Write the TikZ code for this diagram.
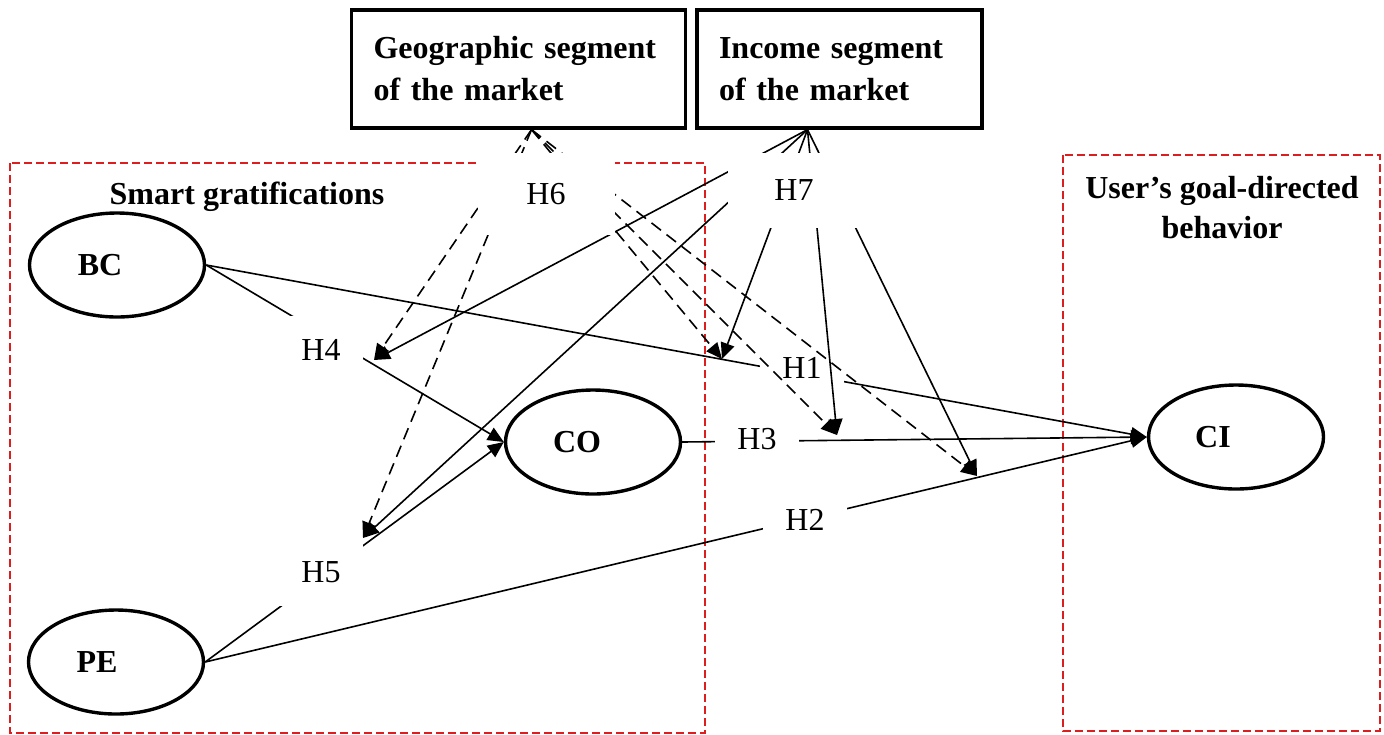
\documentclass[tikz,border=0pt]{standalone}
\usepackage{fontspec}
\setmainfont{Liberation Serif}
\definecolor{grpred}{RGB}{220,30,30}
\usetikzlibrary{arrows.meta,shapes.geometric}

\begin{document}
\begin{tikzpicture}[x=0.5pt,y=-0.5pt,
    construct/.style={draw,ellipse,line width=1.7pt,minimum width=87.5pt,
      minimum height=52pt,inner sep=0pt,font=\fontsize{16}{20}\selectfont\bfseries},
    segbox/.style={draw,line width=1.6pt,align=left,inner xsep=11pt,inner ysep=2pt,
      minimum height=59pt,font=\fontsize{16}{21}\selectfont\bfseries},
    hyp/.style={fill=white,inner sep=0pt,font=\fontsize{16}{20}\selectfont},
    grpbox/.style={draw=grpred,line width=0.6pt,dash pattern=on 4pt off 2pt},
    effect/.style={line width=0.8pt,-{Triangle[length=8pt,width=7pt]}},
    moderate/.style={effect,dash pattern=on 6pt off 3.5pt}]
  \useasboundingbox (0,0) rectangle (1384,734);

  %% Groups of constructs
  \draw[grpbox] (10,163) rectangle (705,733);
  \draw[grpbox] (1063,155) rectangle (1380,731);
  \node[font=\fontsize{16}{20}\selectfont\bfseries] (smart) at (247,197)
        {Smart gratifications};
  \node[font=\fontsize{16}{20}\selectfont\bfseries,align=center] (goal) at (1222,208)
        {User’s goal-directed\\behavior};

  %% Market segments
  \node[segbox,text width=145pt] (geo) at (518.5,69) {Geographic segment\\of the market};
  \node[segbox,text width=120.5pt] (inc) at (839.5,69) {Income segment\\of the market};

  %% Constructs
  \node[construct] (bc) at (117,265) {BC\hspace*{17pt}};
  \node[construct] (pe) at (116,662) {PE\hspace*{19pt}};
  \node[construct] (co) at (593,442) {CO\hspace*{16pt}};
  \node[construct] (ci) at (1236,437) {CI\hspace*{23pt}};

  %% Direct paths
  \draw[effect] (bc.east) -- (co.west);
  \draw[effect] (pe.east) -- (co.west);
  \draw[effect] (bc.east) -- (ci.west);
  \draw[effect] (pe.east) -- (ci.west);
  \draw[effect] (co.east) -- (ci.west);
  \node[hyp,minimum width=42pt,minimum height=34pt] (h1) at (802,368) {H1};
  \node[hyp,minimum width=42pt,minimum height=34pt] (h2) at (805,520) {H2};
  \node[hyp,minimum width=42pt,minimum height=34pt] (h3) at (757,439) {H3};
  \node[hyp,minimum width=42pt,minimum height=34pt] (h4) at (321,350) {H4};
  \node[hyp,minimum width=42pt,minimum height=34pt] (h5) at (321,572) {H5};

  %% Moderating paths
  \coordinate (m1) at (722,359);
  \coordinate (m2) at (977,476);
  \coordinate (m3) at (837,435);
  \coordinate (m4) at (374,360);
  \coordinate (m5) at (363,538);
  \foreach \m in {m1,m2,m3,m4,m5}
    \draw[moderate] ([xshift=6.5pt]geo.south) -- (\m);
  \foreach \m in {m1,m2,m3,m4,m5}
    \draw[effect] ([xshift=-16pt]inc.south) -- (\m);
  \node[hyp,minimum width=68.5pt,minimum height=41pt] (h6) at (546,194) {H6};
  \node[hyp,minimum width=66pt,minimum height=37.5pt] (h7) at (794,190) {H7};
\end{tikzpicture}
\end{document}
